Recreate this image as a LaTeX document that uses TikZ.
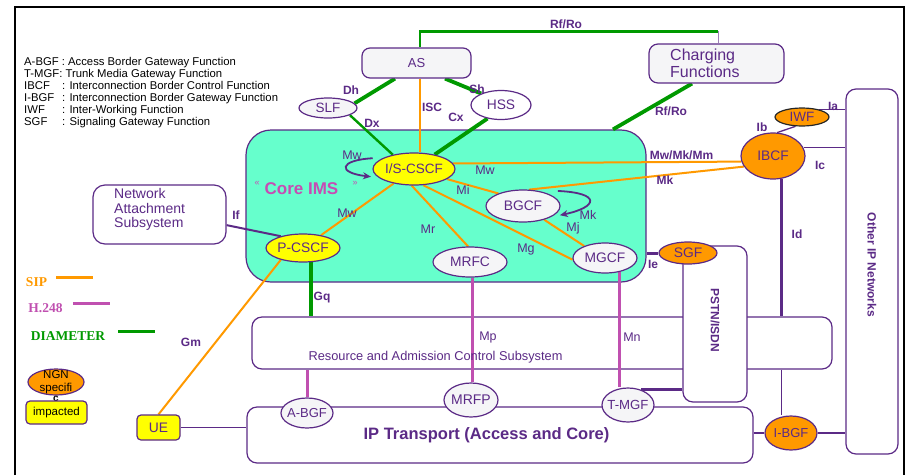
\documentclass[tikz,border=0pt]{standalone}
\usepackage{fontspec}
\setmainfont{Liberation Sans}
\newfontfamily\serifb{Liberation Serif}
\usetikzlibrary{shapes.geometric,arrows.meta,calc}
\pgfdeclarelayer{bg}
\pgfdeclarelayer{lines}
\pgfsetlayers{bg,lines,main}
\definecolor{pp}{HTML}{5B2A86}
\definecolor{org}{HTML}{FF9900}
\definecolor{grn}{HTML}{009900}
\definecolor{mag}{HTML}{C050B0}
\definecolor{aqua}{HTML}{66FFCC}
\definecolor{lite}{HTML}{F5F5F7}
\definecolor{yel}{HTML}{FFFF00}
\definecolor{pinkt}{HTML}{C64DB4}
\newcommand\myfs[1]{\fontsize{#1}{#1}\selectfont}
\begin{document}
\begin{tikzpicture}[x=1pt,y=-1pt,
  box/.style={draw=pp, line width=1.2pt, rounded corners=8pt, inner sep=0pt, text=pp},
  ell/.style={ellipse, draw=pp, line width=1.2pt, inner sep=0pt, text=pp, font=\myfs{13.8}},
  lbl/.style={text=pp, inner sep=0pt, font=\myfs{12.5}},
  blbl/.style={text=pp, inner sep=0pt, font=\bfseries\myfs{12}},
  sip/.style={draw=org, line width=2pt},
  dia/.style={draw=grn, line width=3.8pt},
  diat/.style={draw=grn, line width=2.4pt},
  h248/.style={draw=mag, line width=3pt},
  pl/.style={draw=pp, line width=1.3pt},
  plt/.style={draw=pp, line width=3pt},
  loop/.style={draw=pp, line width=1.8pt, -{Stealth[length=8pt,width=7pt]}},
  legt/.style={inner sep=0pt, font=\serifb\bfseries\myfs{13.5}}
]
\useasboundingbox (0,0) rectangle (908,475);
% frame
\draw[black, line width=1.6pt] (15,475) -- (15,7) -- (904,7) -- (904,475);

% large boxes
\begin{pgfonlayer}{bg}
\node[box, fill=aqua, rounded corners=25pt, minimum width=400pt, minimum height=152pt] (core) at (446,206) {};
\node[box, fill=white, rounded corners=10pt, minimum width=580pt, minimum height=52pt] (racs) at (542,343) {};
\node[box, fill=white, rounded corners=10pt, minimum width=64pt, minimum height=156pt] (pstn) at (715,324) {};
\node[box, fill=white, rounded corners=10pt, minimum width=506pt, minimum height=56pt] (ipt) at (500,435) {};
\node[box, fill=white, rounded corners=10pt, minimum width=52pt, minimum height=365pt] (oip) at (872,271.5) {};
\end{pgfonlayer}

% legend text
\node[anchor=north west, align=left, inner sep=0pt, font=\fontsize{11.3}{12}\selectfont] (legend) at (24,57)
{A-BGF : Access Border Gateway Function\\
T-MGF: Trunk Media Gateway Function\\
\makebox[38pt][l]{IBCF}: Interconnection Border Control Function\\
\makebox[38pt][l]{I-BGF}: Interconnection Border Gateway Function\\
\makebox[38pt][l]{IWF}: Inter-Working Function\\
\makebox[38pt][l]{SGF}: Signaling Gateway Function};

% top boxes
\node[box, fill=lite, minimum width=109pt, minimum height=30pt, font=\myfs{13}] (as) at (416.5,63) {AS};
\node[box, fill=lite, minimum width=135pt, minimum height=39pt, rounded corners=9pt] (charging) at (716.5,63.5) {};
\node[text=pp, anchor=west, align=left, inner sep=0pt, font=\fontsize{16}{17}\selectfont] (chlbl) at (670,63) {Charging\\Functions};

% ellipses
\node[ell, fill=lite, minimum width=58pt, minimum height=20pt, inner ysep=-1pt, font=\myfs{13.5}] (slf) at (328,108) {SLF};
\node[ell, fill=white, minimum width=60pt, minimum height=29pt] (hss) at (501,105) {HSS};
\node[ell, fill=yel, minimum width=82pt, minimum height=32pt, font=\myfs{13.5}] (iscscf) at (414,169) {I/S-CSCF};
\node[ell, fill=lite, minimum width=74pt, minimum height=32pt] (bgcf) at (523,206) {BGCF};
\node[ell, fill=yel, minimum width=74pt, minimum height=28pt] (pcscf) at (303,248) {P-CSCF};
\node[ell, fill=lite, minimum width=74pt, minimum height=30pt] (mrfc) at (470,262) {MRFC};
\node[ell, fill=lite, minimum width=64pt, minimum height=30pt, inner xsep=-2pt] (mgcf) at (605,258) {MGCF};
\node[ell, fill=org, minimum width=64pt, minimum height=46pt] (ibcf) at (773,156) {IBCF};
\node[ell, fill=org, draw=black!85, minimum width=54pt, minimum height=18pt, inner ysep=-2pt, font=\myfs{13.5}] (iwf) at (802,117) {IWF};
\node[ell, fill=org, minimum width=58pt, minimum height=22pt, inner ysep=-1pt] (sgf) at (688,253) {SGF};
\node[ell, fill=lite, minimum width=54pt, minimum height=34pt, inner xsep=-2pt, font=\myfs{14}] (mrfp) at (471,400) {MRFP};
\node[ell, fill=lite, minimum width=52pt, minimum height=30pt, inner xsep=-2.5pt, font=\myfs{13}] (abgf) at (307,413) {A-BGF};
\node[ell, fill=lite, minimum width=52pt, minimum height=34pt, inner xsep=-3pt, font=\myfs{13.2}] (tmgf) at (628,405) {T-MGF};
\node[ell, fill=org, minimum width=52pt, minimum height=34pt, font=\myfs{13}] (ibgf) at (791,433) {I-BGF};

% other boxes
\node[box, minimum width=133pt, minimum height=59pt, rounded corners=12pt, fill=white] (nas) at (159.5,214.5) {};
\node[text=pp, anchor=west, align=left, inner sep=0pt, font=\fontsize{14}{14.5}\selectfont] (naslbl) at (114,209.5) {Network\\Attachment\\Subsystem};
\node[box, fill=yel, minimum width=43pt, minimum height=25pt, rounded corners=4pt, font=\myfs{13.8}] (ue) at (158.5,427.5) {UE};

% box texts
\node[text=pp, inner sep=0pt, font=\myfs{12.8}] (racslbl) at (435.5,357) {Resource and Admission Control Subsystem};
\node[text=pp, inner sep=0pt, font=\bfseries\myfs{16.5}] (iptlbl) at (486.5,435) {IP Transport (Access and Core)};
\node[text=pp, inner sep=0pt, font=\bfseries\myfs{12}, rotate=-90] (oiplbl) at (872,265) {Other IP Networks};
\node[text=pp, inner sep=0pt, font=\bfseries\myfs{12}, rotate=-90] (pstnlbl) at (715,320) {PSTN/ISDN};
\node[text=pinkt, inner sep=0pt, font=\myfs{9}] (laq) at (257,183) {«};
\node[text=pinkt, inner sep=0pt, font=\bfseries\myfs{17}] (corelbl) at (301.5,189) {Core IMS};
\node[text=pinkt, inner sep=0pt, font=\myfs{9}] (raq) at (355,183) {»};

% connectors
\begin{pgfonlayer}{lines}
\coordinate (rftop) at ($(as.north)+(3.5,0)$);
\coordinate (chtop) at ($(charging.north)+(1.5,0)$);
\coordinate (chbend) at ($(chtop)+(0,-12)$);
\draw[diat, line width=2.8pt] (rftop) -- ++(0,-16) -| (chbend);
\draw[draw=pp!60, line width=1pt] (chbend) -- (chtop);
\coordinate (asdh) at ($(as.south)+(-21.5,0)$);
\coordinate (assh) at ($(as.south)+(28.5,0)$);
\coordinate (asisc) at ($(as.south)+(3.5,0)$);
\draw[dia] (asdh) -- (slf.10);
\draw[dia] (assh) -- (hss.150);
\draw[sip] (asisc) -- (asisc |- iscscf.north);
\draw[diat] (slf.-18) -- (iscscf.146);
\draw[dia] (hss.225) -- (iscscf.35);
\coordinate (chrf) at ($(charging.south)+(-24.5,0)$);
\coordinate (corerf) at ($(core.north)+(167,0)$);
\draw[dia] (chrf) -- (corerf);
\draw[sip] (iscscf) -- (pcscf);
\draw[sip] (iscscf.262) -- (mrfc.97);
\draw[sip] (iscscf.-60) -- (mgcf.183);
\draw[sip] (iscscf.-17) -- (bgcf.153);
\draw[sip] (bgcf.-33) -- (mgcf.150);
\draw[sip] (iscscf.8) -- (ibcf.190);
\draw[sip] (bgcf.70) -- (ibcf.200);
\draw[sip] (ue.north) -- (pcscf.208);
\draw[pl, line width=2pt] (nas.-9) -- (pcscf.152);
\draw[plt] (sgf.west -| core.east) -- (sgf.west);
\draw[pl] (ibcf.80) -- (iwf.235);
\draw[pl] (iwf.25) -- (iwf.25 -| oip.west);
\draw[pl] (ibcf.15) -- (ibcf.15 -| oip.west);
\draw[plt] (ibcf.-70) -- (ibcf.-70 |- racs.north);
\draw[pl] (ibcf.-70 |- racs.south) -- (ibcf.-70 |- ibgf.north);
\draw[pl] (ue.east) -- (ue.east -| ipt.west);
\draw[pl] (ibgf.west -| ipt.east) -- (ibgf.west);
\draw[pl] (ibgf.east) -- (ibgf.east -| oip.west);
\draw[plt, line width=3.5pt] (tmgf.50) -- (tmgf.50 -| pstn.west);
\draw[dia] (pcscf.-60) -- (pcscf.-60 |- racs.north);
\draw[h248] (mrfc.-80) -- (mrfc.-80 |- mrfp.north);
\draw[h248] (mgcf.-45) -- (mgcf.-45 |- tmgf.north);
\draw[h248] (abgf.north |- racs.south) -- (abgf.north);
\end{pgfonlayer}

% self loops
\coordinate (mwst) at ($(iscscf.166)+(-6,-2)$);
\coordinate (mwen) at ($(iscscf.190)+(-5,1)$);
\draw[loop] (mwst) .. controls +(-34,2) and +(-34,-4) .. (mwen);
\coordinate (mkst) at ($(bgcf.25)+(9,-3)$);
\coordinate (mken) at ($(bgcf.-12)+(3,2)$);
\draw[loop] (mkst) .. controls +(44,2) and +(38,-8) .. (mken);

% labels
\node[blbl] (lrf1) at (566,24) {Rf/Ro};
\node[blbl] (ldh) at (351,90) {Dh};
\node[blbl] (lsh) at (477,89) {Sh};
\node[blbl] (lisc) at (432,107) {ISC};
\node[blbl] (ldx) at (372,123) {Dx};
\node[blbl] (lcx) at (456,117) {Cx};
\node[blbl] (lrf2) at (671,111) {Rf/Ro};
\node[lbl] (lmw1) at (352,155) {Mw};
\node[lbl] (lmw2) at (485,170) {Mw};
\node[lbl] (lmi) at (463,190) {Mi};
\node[lbl] (lmw3) at (347,213) {Mw};
\node[lbl] (lmr) at (428,229) {Mr};
\node[lbl] (lmg) at (526,249) {Mg};
\node[lbl] (lmj) at (573,228) {Mj};
\node[lbl] (lmk1) at (588,215) {Mk};
\node[blbl] (lmwkm) at (681.5,155) {Mw/Mk/Mm};
\node[blbl] (lmk2) at (665,180) {Mk};
\node[blbl] (lib) at (762,127) {Ib};
\node[blbl] (lia) at (833,106) {Ia};
\node[blbl] (lic) at (820,165) {Ic};
\node[blbl] (lid) at (797,234) {Id};
\node[blbl] (lie) at (653,264) {Ie};
\node[blbl] (lif) at (236,215) {If};
\node[blbl] (lgq) at (322,298) {Gq};
\node[blbl] (lgm) at (191,342) {Gm};
\node[lbl] (lmp) at (488,337) {Mp};
\node[lbl] (lmn) at (632,337) {Mn};

% legend of protocols
\node[legt, text=org] (lsip) at (36.5,282) {SIP};
\draw[sip, line width=3pt] ($(lsip.east)+(9,-5)$) -- ++(37,0);
\node[legt, text=mag] (lh) at (45.5,308) {H.248};
\draw[h248, line width=3pt] ($(lh.east)+(10,-5)$) -- ++(37,0);
\node[legt, text=grn] (ldia) at (68,336) {DIAMETER};
\draw[diat, line width=3pt] ($(ldia.east)+(13,-5)$) -- ++(37,0);

% NGN specific / impacted
\node[ellipse, draw=pp, line width=1.2pt, fill=org, minimum width=56pt, minimum height=26pt, inner sep=0pt, inner ysep=-5pt, align=center, font=\fontsize{11.5}{13}\selectfont] (ngn) at (56,382) {NGN\\specifi};
\node[inner sep=0pt, font=\bfseries\myfs{10}] (ngnc) at (56,399) {c};
\node[box, fill=yel, minimum width=61pt, minimum height=23pt, rounded corners=4pt, text=black, font=\myfs{11.5}] (imp) at (56.5,412.5) {\raisebox{-4pt}{impacted}};
\end{tikzpicture}
\end{document}
